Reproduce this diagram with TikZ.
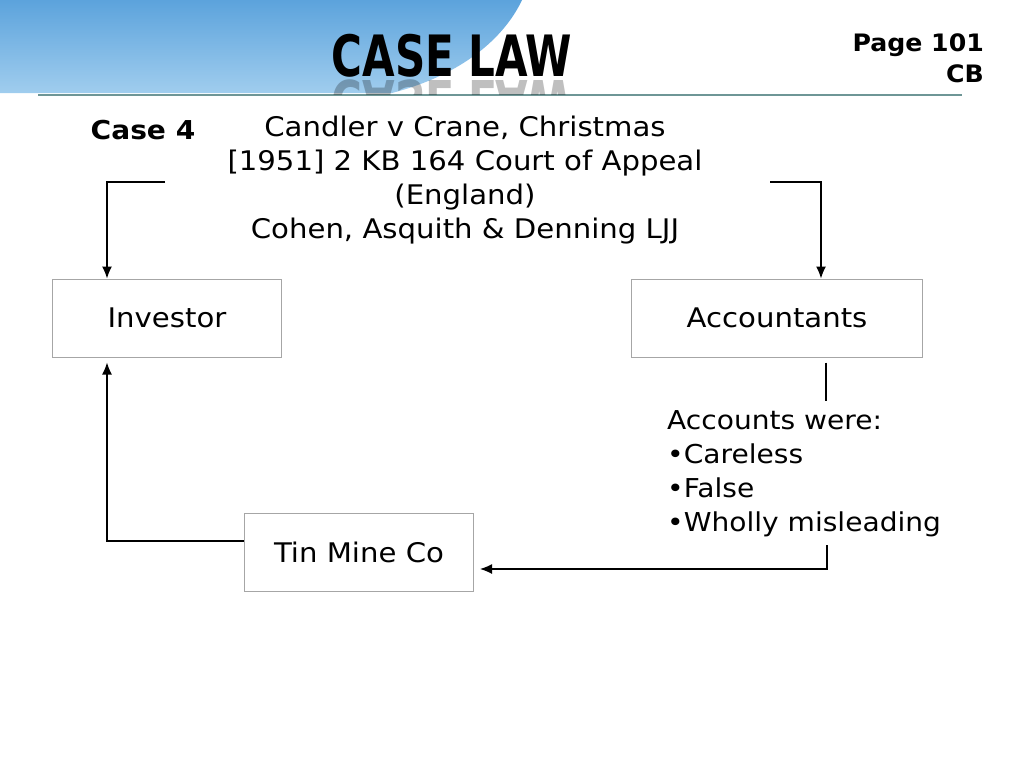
\documentclass[tikz,border=0pt]{standalone}
\usepackage{fontspec}
\setmainfont{DejaVu Sans}[FakeStretch=1.08]
\newfontfamily\headfont{DejaVu Sans Condensed}[FakeStretch=0.82]
\newfontfamily\pagefont{DejaVu Sans}[FakeStretch=1.05]
\usetikzlibrary{arrows.meta}

\definecolor{skyblue}{RGB}{92,163,220}
\definecolor{skylight}{RGB}{160,205,238}
\definecolor{ruleteal}{RGB}{110,150,150}
\definecolor{boxgray}{RGB}{166,166,166}

\tikzset{
  partybox/.style={draw=boxgray, line width=1pt, minimum width=229, minimum height=78,
    inner sep=0pt, font=\fontsize{27}{30}\selectfont},
  plaintext/.style={inner sep=0pt, font=\fontsize{27}{34}\selectfont},
  arr/.style={-{Latex[length=12pt,width=10pt]}, line width=1.3pt},
  link/.style={line width=1.3pt}
}

\begin{document}
\begin{tikzpicture}[x=1pt,y=-1pt]
	\useasboundingbox (0,0) rectangle (1024,768);
	
	%Shape: Sky banner
	\shade [top color=skyblue, bottom color=skylight] (0,0) -- (522,0) .. controls (508,30) and (472,72) .. (392,93) -- (0,93) -- cycle ;
	%Straight Lines: header rule
	\draw [ruleteal, line width=2pt] (38,95) -- (962,95) ;
	
	% Text Node: faded mirror of the heading
	\begin{scope}
		\clip (300,79) rectangle (620,94);
		\node [text opacity=0.25] at (452,101) {\scalebox{1}[-1]{\headfont\bfseries\fontsize{57}{57}\selectfont CASE LAW}};
	\end{scope}
	% Text Node
	\node (head) at (452,56) {\headfont\bfseries\fontsize{57}{57}\selectfont CASE LAW};
	% Text Node
	\node [anchor=east, align=right, inner sep=0pt, font=\pagefont\bfseries\fontsize{24}{31}\selectfont] (page) at (984,58) {Page 101\\CB};
	% Text Node
	\node [inner sep=0pt, font=\bfseries\fontsize{26}{30}\selectfont] (case) at (143,130) {Case 4};
	% Text Node
	\node [plaintext, align=center] (cite) at (465,180) {Candler v Crane, Christmas\\{}[1951] 2 KB 164 Court of Appeal\\(England)\\Cohen, Asquith \& Denning LJJ};
	
	%Shape: Rectangle
	\node [partybox] (inv) at (167,318) {Investor};
	%Shape: Rectangle
	\node [partybox, minimum width=291] (acc) at (777,318) {Accountants};
	%Shape: Rectangle
	\node [partybox] (tin) at (359,552) {Tin Mine Co};
	
	% Text Node
	\node [plaintext, anchor=west, align=left, font=\fontsize{26}{34}\selectfont] (faults) at (667,474) {Accounts were:\\\textbullet Careless\\\textbullet False\\\textbullet Wholly misleading};
	
	%Straight Lines
	\coordinate (citeL) at (165,182);
	\coordinate (citeR) at (770,182);
	\coordinate (lowR) at (827,569);
	\draw [arr] (citeL) -| ([xshift=55pt]inv.north west) ;
	\draw [arr] (citeR) -| ([xshift=190pt]acc.north west) ;
	\draw [link] ([xshift=195pt,yshift=-5pt]acc.south west) -- ++(0,38) ;
	\draw [arr] ([yshift=24pt]lowR) -- (lowR) -- ([xshift=6pt]tin.east |- lowR) ;
	\draw [arr] (tin.west |- 0,541) -| ([xshift=55pt,yshift=-5pt]inv.south west) ;
	
\end{tikzpicture}
\end{document}
